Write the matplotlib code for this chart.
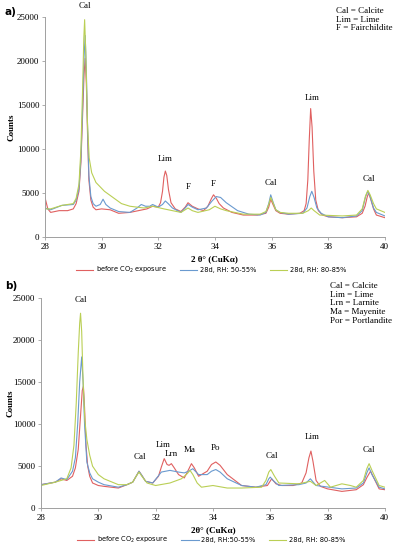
import matplotlib
matplotlib.use("Agg")
import matplotlib.pyplot as plt

# ---------------- Panel a data ----------------
a_red_x = [28.0, 28.1, 28.2, 28.5, 28.8, 29.0, 29.1, 29.2, 29.27, 29.33, 29.38, 29.42, 29.46, 29.5, 29.55, 29.62, 29.7, 29.8, 30.0, 30.3, 30.6, 31.0, 31.3, 31.6, 31.8, 32.0, 32.08, 32.15, 32.2, 32.25, 32.3, 32.36, 32.45, 32.6, 32.8, 32.95, 33.05, 33.2, 33.4, 33.6, 33.75, 33.88, 33.95, 34.05, 34.15, 34.3, 34.6, 35.0, 35.5, 35.8, 35.9, 35.97, 36.05, 36.15, 36.3, 36.6, 37.0, 37.15, 37.22, 37.28, 37.33, 37.38, 37.43, 37.49, 37.56, 37.65, 37.8, 38.0, 38.5, 39.0, 39.2, 39.3, 39.38, 39.43, 39.5, 39.6, 39.7, 40.0]
a_red_y = [4500, 3200, 2800, 3000, 3000, 3200, 3800, 5200, 8500, 14000, 18500, 20300, 17500, 12000, 6500, 4200, 3400, 3100, 3200, 3100, 2700, 2800, 3000, 3200, 3500, 3400, 3900, 5200, 6800, 7500, 7000, 5400, 3900, 3200, 2900, 3400, 3900, 3500, 3200, 3000, 3500, 4400, 4800, 4400, 3800, 3300, 2800, 2500, 2500, 2700, 3400, 4300, 3700, 3000, 2700, 2600, 2700, 3000, 3800, 6500, 11000, 14600, 12500, 7500, 4200, 3000, 2500, 2300, 2200, 2300, 2700, 3500, 4600, 5000, 4300, 3200, 2500, 2200]

a_blue_x = [28.0, 28.2, 28.6, 29.0, 29.1, 29.2, 29.27, 29.33, 29.38, 29.42, 29.46, 29.5, 29.55, 29.62, 29.7, 29.8, 29.95, 30.05, 30.15, 30.3, 30.6, 31.0, 31.25, 31.4, 31.55, 31.7, 31.8, 32.0, 32.15, 32.25, 32.35, 32.5, 32.8, 32.95, 33.05, 33.2, 33.4, 33.7, 33.9, 34.05, 34.2, 34.4, 34.8, 35.2, 35.6, 35.8, 35.9, 35.97, 36.05, 36.15, 36.3, 36.6, 37.1, 37.25, 37.35, 37.42, 37.5, 37.6, 37.75, 38.0, 38.5, 39.0, 39.2, 39.32, 39.4, 39.48, 39.6, 39.7, 40.0]
a_blue_y = [3300, 3100, 3600, 3700, 4200, 5500, 9000, 15000, 20500, 22900, 19000, 13000, 7000, 4600, 3800, 3500, 3700, 4300, 3700, 3300, 2900, 2800, 3300, 3700, 3500, 3500, 3700, 3400, 3700, 4100, 3800, 3300, 2800, 3300, 3700, 3400, 3100, 3300, 4100, 4600, 4500, 3900, 3000, 2600, 2500, 2800, 3800, 4800, 4000, 3100, 2800, 2600, 2700, 3300, 4600, 5200, 4500, 3300, 2700, 2300, 2200, 2400, 3000, 4600, 5200, 4600, 3300, 2800, 2400]

a_green_x = [28.0, 28.2, 28.6, 29.0, 29.1, 29.2, 29.27, 29.33, 29.37, 29.4, 29.44, 29.5, 29.56, 29.65, 29.8, 30.1, 30.4, 30.7, 31.0, 31.5, 31.8, 32.2, 32.5, 32.8, 32.95, 33.05, 33.2, 33.4, 33.8, 34.0, 34.2, 34.4, 35.0, 35.6, 35.8, 35.9, 35.97, 36.05, 36.15, 36.3, 36.6, 37.1, 37.3, 37.4, 37.5, 37.7, 38.5, 39.0, 39.2, 39.32, 39.4, 39.48, 39.6, 39.7, 40.0]
a_green_y = [3200, 3200, 3600, 3800, 4400, 6000, 10000, 17000, 22500, 24700, 21000, 13000, 9000, 7300, 6200, 5200, 4500, 3800, 3500, 3300, 3500, 3200, 3000, 2800, 3100, 3300, 3000, 2800, 3100, 3500, 3200, 3000, 2600, 2600, 2900, 3700, 4500, 3900, 3100, 2800, 2700, 2700, 3000, 3300, 3000, 2500, 2400, 2500, 3200, 4700, 5300, 4800, 3800, 3200, 2800]

# ---------------- Panel b data ----------------
b_red_x = [28.0, 28.5, 28.7, 28.9, 29.1, 29.2, 29.3, 29.38, 29.44, 29.48, 29.52, 29.57, 29.63, 29.7, 29.8, 30.0, 30.2, 30.7, 31.0, 31.2, 31.32, 31.42, 31.52, 31.65, 31.9, 32.1, 32.2, 32.3, 32.4, 32.47, 32.55, 32.65, 32.8, 33.0, 33.15, 33.25, 33.35, 33.5, 33.8, 33.95, 34.1, 34.25, 34.5, 35.0, 35.5, 35.9, 36.05, 36.2, 36.4, 36.8, 37.1, 37.25, 37.35, 37.42, 37.49, 37.6, 37.75, 38.0, 38.5, 39.0, 39.25, 39.38, 39.5, 39.6, 39.8, 40.0]
b_red_y = [2800, 3100, 3500, 3300, 3800, 4800, 7000, 11000, 14000, 14500, 12000, 7500, 5000, 3800, 3000, 2700, 2600, 2400, 2800, 3100, 3800, 4400, 3900, 3200, 3000, 3800, 4900, 5900, 5200, 5100, 5300, 4800, 4000, 3600, 4600, 5300, 4800, 3800, 4400, 5200, 5500, 5100, 4000, 2700, 2500, 2700, 3500, 2900, 2700, 2700, 3000, 4200, 6000, 6800, 5600, 3300, 2600, 2300, 2000, 2200, 2800, 3700, 4400, 3700, 2300, 2200]

b_blue_x = [28.0, 28.5, 28.7, 28.9, 29.1, 29.2, 29.28, 29.35, 29.42, 29.47, 29.52, 29.6, 29.7, 29.8, 30.0, 30.2, 30.7, 31.0, 31.2, 31.32, 31.42, 31.52, 31.65, 31.9, 32.2, 32.5, 32.8, 33.0, 33.15, 33.3, 33.5, 33.8, 33.95, 34.1, 34.25, 34.5, 35.0, 35.5, 35.85, 35.95, 36.0, 36.1, 36.3, 37.0, 37.25, 37.4, 37.5, 37.6, 38.5, 39.0, 39.25, 39.37, 39.45, 39.55, 39.8, 40.0]
b_blue_y = [2800, 3100, 3600, 3400, 4400, 6000, 10000, 15000, 18000, 15000, 10000, 5500, 4200, 3500, 3100, 2800, 2500, 2800, 3100, 3800, 4400, 3900, 3200, 3000, 4300, 4500, 4300, 4200, 4400, 4700, 4000, 4000, 4400, 4600, 4300, 3500, 2700, 2500, 2800, 3500, 3700, 3300, 2700, 2800, 3000, 3500, 3100, 2700, 2300, 2400, 3000, 4200, 4800, 4000, 2500, 2300]

b_green_x = [28.0, 28.5, 28.7, 28.9, 29.05, 29.15, 29.23, 29.3, 29.35, 29.38, 29.42, 29.47, 29.53, 29.6, 29.7, 29.8, 30.0, 30.2, 30.7, 31.0, 31.2, 31.32, 31.42, 31.52, 31.7, 32.0, 32.5, 32.9, 33.1, 33.2, 33.3, 33.45, 33.6, 34.0, 34.5, 35.0, 35.7, 35.85, 35.95, 36.02, 36.15, 36.3, 37.0, 37.4, 37.6, 37.9, 38.1, 38.5, 38.8, 39.0, 39.25, 39.37, 39.45, 39.55, 39.8, 40.0]
b_green_y = [2700, 3100, 3300, 3500, 4800, 7500, 12500, 18500, 22000, 23200, 21000, 15000, 10500, 8200, 6300, 5000, 4000, 3500, 2800, 2800, 3100, 3800, 4300, 3800, 3000, 2700, 3000, 3500, 4100, 4500, 4000, 3000, 2500, 2700, 2400, 2400, 2500, 3300, 4300, 4600, 3800, 3000, 2900, 3200, 2700, 3300, 2500, 2900, 2700, 2500, 3300, 4700, 5300, 4500, 2700, 2500]

x_ticks = [28, 30, 32, 34, 36, 38, 40]
y_ticks = [0, 5000, 10000, 15000, 20000, 25000]

a_labels = ["before CO$_2$ exposure", "28d, RH: 50-55%", "28d, RH: 80-85%"]
b_labels = ["before CO$_2$ exposure", "28d, RH:50-55%", "28d, RH: 80-85%"]

a_ann = [("Cal", 29.42, 25800), ("Lim", 32.25, 8400), ("F", 33.05, 5200), ("F", 33.95, 5600),
         ("Cal", 35.97, 5700), ("Lim", 37.42, 15300), ("Cal", 39.45, 6100)]
b_ann = [("Cal", 29.4, 24300), ("Cal", 31.45, 5600), ("Lim", 32.25, 7000), ("Lrn", 32.55, 6000),
         ("Ma", 33.2, 6400), ("Po", 34.1, 6700), ("Cal", 36.05, 5700), ("Lim", 37.45, 8000),
         ("Cal", 39.45, 6400)]

a_key = "Cal = Calcite\nLim = Lime\nF = Fairchildite"
b_key = "Cal = Calcite\nLim = Lime\nLrn = Larnite\nMa = Mayenite\nPor = Portlandite"

RED = "#E06060"
BLUE = "#6A9ACF"
GREEN = "#BACF55"
SERIF = "Liberation Serif"

fig = plt.figure(figsize=(3.98, 5.5), dpi=100)

def panel(rect, series, labels, ann, key, keypos, tag, tagpos, xlabel, legy, ylab_x):
    ax = fig.add_axes(rect)
    for (x, y), c, lab in zip(series, [RED, BLUE, GREEN], labels):
        ax.plot(x, y, color=c, lw=0.8, label=lab)
    ax.set_xlim(28, 40)
    ax.set_ylim(0, 25000)
    ax.set_xticks(x_ticks)
    ax.set_yticks(y_ticks)
    for s in ["top", "right"]:
        ax.spines[s].set_visible(False)
    for s in ["left", "bottom"]:
        ax.spines[s].set_color("#A0A0A0")
        ax.spines[s].set_linewidth(0.7)
    ax.tick_params(length=2, width=0.6, color="#A0A0A0", labelsize=6.5, pad=2)
    for t in ax.get_xticklabels() + ax.get_yticklabels():
        t.set_fontfamily(SERIF)
    ax.set_ylabel("Counts", fontsize=6.5, fontweight="bold", family=SERIF)
    ax.yaxis.set_label_coords(ylab_x, 0.5)
    ax.set_xlabel(xlabel, fontsize=6.5, fontweight="bold", family=SERIF, labelpad=3)
    for txt, x, y in ann:
        ax.text(x, y, txt, fontsize=6.5, family=SERIF, ha="center", va="bottom", clip_on=False)
    fig.text(keypos[0], keypos[1], key, fontsize=6.5, family=SERIF, va="top", ha="left", linespacing=1.1)
    fig.text(tagpos[0], tagpos[1], tag, fontsize=7.5, fontweight="bold", va="center", ha="left")
    ax.legend(loc="center", bbox_to_anchor=(0.53, legy), bbox_transform=fig.transFigure,
              ncol=3, frameon=False, fontsize=4.8, handlelength=2.6, columnspacing=2.0,
              handletextpad=0.4, borderaxespad=0, borderpad=0)
    return ax

panel([0.113, 0.569, 0.854, 0.400],
      [(a_red_x, a_red_y), (a_blue_x, a_blue_y), (a_green_x, a_green_y)],
      a_labels, a_ann, a_key, (0.843, 0.987), "a)", (0.012, 0.978),
      "2 θ° (CuKα)", 0.509, -0.088)
panel([0.103, 0.076, 0.864, 0.382],
      [(b_red_x, b_red_y), (b_blue_x, b_blue_y), (b_green_x, b_green_y)],
      b_labels, b_ann, b_key, (0.830, 0.487), "b)", (0.012, 0.480),
      "2θ° (CuKα)", 0.018, -0.076)

fig.savefig("out.png", dpi=100)
